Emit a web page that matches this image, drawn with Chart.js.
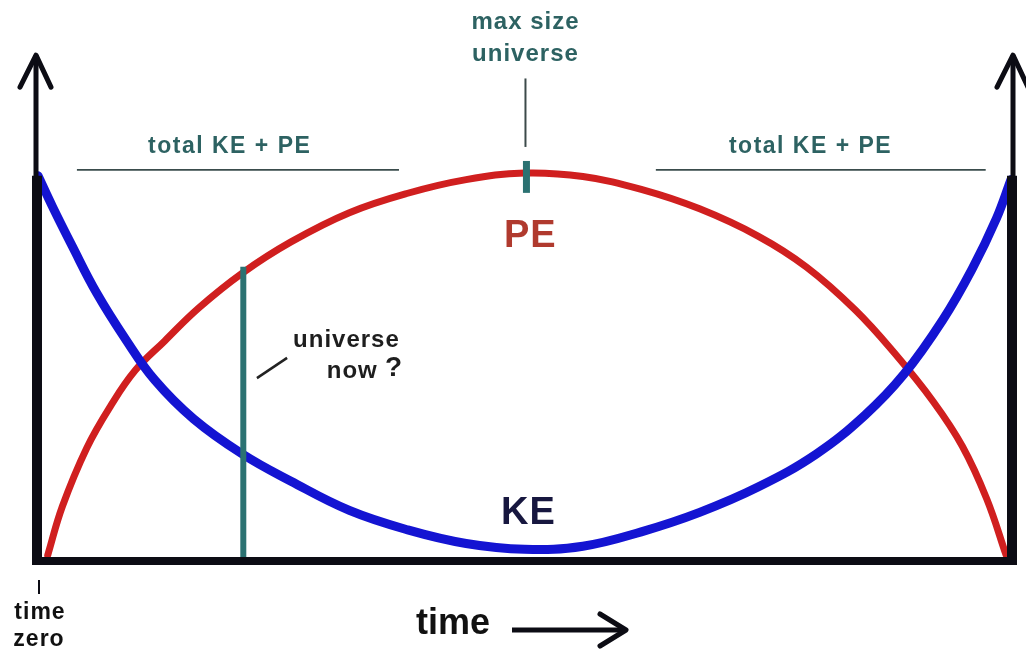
<!DOCTYPE html>
<html>
<head>
<meta charset="utf-8">
<script src="https://cdn.jsdelivr.net/npm/chart.js@4.4.0/dist/chart.umd.min.js"></script>
<style>
  html, body { margin: 0; padding: 0; background: #fff; }
  #wrap { width: 1026px; height: 652px; }
</style>
</head>
<body>
<div id="wrap"><canvas id="c"></canvas></div>
<script>
// time runs 0..100 across the box, energy 0..100 where 100 = total KE + PE
const peTime  = [1, 2.5, 5, 7.5, 10, 13, 16.5, 21, 26, 32, 38, 44, 50, 56, 62, 68, 74, 79, 84, 88, 92, 95, 97.5, 99.5];
const peValue = [1.5, 14, 29, 40, 49, 56.5, 65, 74, 82, 89.5, 94.5, 98, 99.7, 98.8, 95.5, 90.5, 83.5, 75.5, 64.5, 53.5, 41, 29.5, 16, 1.5];

const keTime  = [0, 1.5, 3.5, 6, 9, 12, 16, 21, 26, 32, 38, 44, 50, 56, 62, 68, 74, 80, 85, 89, 93, 96, 98.5, 100];
const keValue = [99, 91, 81, 69, 57, 46.5, 36.5, 27.5, 20.5, 13, 8, 4.5, 3, 3.8, 7.5, 12.5, 19, 27.5, 37.5, 48, 62, 75, 88, 98];

const totalLevel = 100.5;
const totalLeft = [4.0, 37.1];
const totalRight = [63.5, 97.4];

const nowTime = 21.1;     // "universe now ?" marker
const nowTop = 75.6;
const maxTime = 50.2;     // "max size universe" marker
const maxMark = [94.6, 102.8];
const maxPointer = [106.4, 124];
const nowPointer = [[22.5, 47], [25.6, 52.2]];

const pts = (xs, ys) => xs.map((x, i) => ({ x: x, y: ys[i] }));

const TEAL = '#2b7272';
const LABEL = '#2d6262';
const FONT = '"Liberation Sans", Arial, sans-serif';

const decor = {
  id: 'decor',
  afterDatasetsDraw(chart) {
    const ctx = chart.ctx;
    const xs = chart.scales.x, ys = chart.scales.y;
    const px = v => xs.getPixelForValue(v);
    const py = v => ys.getPixelForValue(v);
    const x0 = px(0), x1 = px(100), yb = py(0);

    ctx.save();
    ctx.strokeStyle = '#0c0c14';
    ctx.lineCap = 'butt';

    // thin upper shafts
    ctx.lineWidth = 5;
    ctx.beginPath();
    ctx.moveTo(x0 - 2, yb); ctx.lineTo(x0 - 2, py(130));
    ctx.moveTo(x1 + 2, yb); ctx.lineTo(x1 + 2, py(130));
    ctx.stroke();
    // thick lower part
    ctx.lineWidth = 10;
    ctx.beginPath();
    ctx.moveTo(x0 - 1, yb); ctx.lineTo(x0 - 1, py(99));
    ctx.moveTo(x1 + 1, yb); ctx.lineTo(x1 + 1, py(99));
    ctx.stroke();
    // baseline
    ctx.lineWidth = 8;
    ctx.beginPath();
    ctx.moveTo(x0 - 6, yb); ctx.lineTo(x1 + 6, yb);
    ctx.stroke();

    // arrow heads
    ctx.lineWidth = 5;
    ctx.lineCap = 'round';
    ctx.lineJoin = 'round';
    [x0 - 2, x1 + 2].forEach(ax => {
      const tip = py(130.5);
      ctx.beginPath();
      ctx.moveTo(ax - 16, tip + 34);
      ctx.lineTo(ax, tip + 2);
      ctx.lineTo(ax + 15, tip + 34);
      ctx.stroke();
    });

    // time zero tick
    ctx.lineWidth = 2;
    ctx.lineCap = 'butt';
    ctx.beginPath();
    ctx.moveTo(x0 + 1, yb + 19); ctx.lineTo(x0 + 1, yb + 33);
    ctx.stroke();

    // time arrow
    ctx.lineWidth = 5;
    ctx.beginPath();
    ctx.moveTo(512, 630); ctx.lineTo(624, 630);
    ctx.stroke();
    ctx.lineCap = 'round';
    ctx.lineJoin = 'round';
    ctx.beginPath();
    ctx.moveTo(600, 614); ctx.lineTo(626, 630); ctx.lineTo(600, 646);
    ctx.stroke();

    // texts
    ctx.textAlign = 'center';
    ctx.textBaseline = 'middle';

    ctx.fillStyle = LABEL;
    ctx.font = 'bold 23px ' + FONT;
    ctx.letterSpacing = '1.5px';
    ctx.fillText('total KE + PE', px(19.7), py(106.5));
    ctx.fillText('total KE + PE', px(79.4), py(106.5));

    ctx.font = 'bold 24px ' + FONT;
    ctx.letterSpacing = '1px';
    ctx.fillText('max size', px(50.1), py(138.5));
    ctx.fillText('universe', px(50.1), py(130.3));

    ctx.fillStyle = '#b03a2e';
    ctx.font = 'bold 38px ' + FONT;
    ctx.letterSpacing = '1px';
    ctx.fillText('PE', px(50.6), py(83.3));

    ctx.fillStyle = '#17173f';
    ctx.fillText('KE', px(50.4), py(12.3));

    ctx.fillStyle = '#1e1e1e';
    ctx.font = 'bold 24px ' + FONT;
    ctx.letterSpacing = '1px';
    ctx.fillText('universe', px(31.7), py(56.8));
    ctx.fillText('now', px(32.3), py(48.6));
    ctx.font = 'bold 28px ' + FONT;
    ctx.fillText('?', px(36.6), py(49.5));

    ctx.fillStyle = '#111';
    ctx.font = 'bold 23px ' + FONT;
    ctx.fillText('time', 40, 613);
    ctx.fillText('zero', 39, 640);

    ctx.font = 'bold 36px ' + FONT;
    ctx.letterSpacing = '0px';
    ctx.fillText('time', 453, 624);
    ctx.restore();
  }
};

new Chart(document.getElementById('c'), {
  type: 'line',
  data: {
    datasets: [
      { data: pts([maxTime, maxTime], maxMark), borderColor: TEAL, borderWidth: 7 },
      { data: pts([maxTime - 0.1, maxTime - 0.1], maxPointer), borderColor: '#3c4a4a', borderWidth: 2 },
      { data: pts([nowTime, nowTime], [0, nowTop]), borderColor: TEAL, borderWidth: 6 },
      { data: pts([nowPointer[0][0], nowPointer[1][0]], [nowPointer[0][1], nowPointer[1][1]]), borderColor: '#222', borderWidth: 2.5 },
      { data: pts(totalLeft, [totalLevel, totalLevel]), borderColor: '#3a4c4c', borderWidth: 1.8 },
      { data: pts(totalRight, [totalLevel, totalLevel]), borderColor: '#3a4c4c', borderWidth: 1.8 },
      { data: pts(keTime, keValue), borderColor: '#1414d2', borderWidth: 9, tension: 0.4, borderCapStyle: 'round' },
      { data: pts(peTime, peValue), borderColor: '#d01f1f', borderWidth: 7, tension: 0.4, borderCapStyle: 'round' }
    ]
  },
  options: {
    responsive: true,
    maintainAspectRatio: false,
    animation: false,
    events: [],
    layout: { padding: { left: 38, right: 15, top: 59, bottom: 91 } },
    elements: { point: { radius: 0 } },
    plugins: { legend: { display: false }, tooltip: { enabled: false } },
    scales: {
      x: { type: 'linear', min: 0, max: 100, display: false },
      y: { min: 0, max: 129, display: false }
    }
  },
  plugins: [decor]
});
</script>
</body>
</html>
